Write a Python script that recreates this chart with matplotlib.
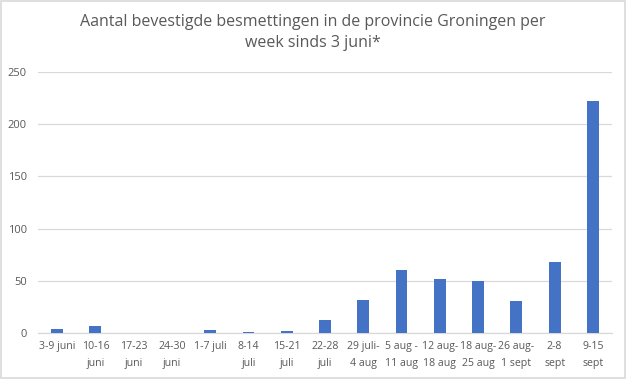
import matplotlib
matplotlib.use("Agg")
import matplotlib.pyplot as plt
from matplotlib.patches import Rectangle

plt.rcParams['font.family'] = ['Open Sans', 'DejaVu Sans']

weeks = ["3-9 juni", "10-16\njuni", "17-23\njuni", "24-30\njuni", "1-7 juli",
         "8-14\njuli", "15-21\njuli", "22-28\njuli", "29 juli-\n4 aug",
         "5 aug -\n11 aug", "12 aug-\n18 aug", "18 aug-\n25 aug",
         "26 aug-\n1 sept", "2-8\nsept", "9-15\nsept"]
cases = [4, 7, 0, 0, 3, 1, 2, 12, 32, 60, 52, 50, 31, 68, 222]
yticks = [0, 50, 100, 150, 200, 250]

text_color = "#595959"
grid_color = "#d9d9d9"
bar_color = "#4472c4"

fig = plt.figure(figsize=(6.26, 3.79), dpi=100)
fig.patches.append(Rectangle((0.0015, 0.002), 0.997, 0.995, transform=fig.transFigure,
                             fill=False, edgecolor="#d9d9d9", linewidth=1.2))
ax = fig.add_axes([38 / 626, 1 - 333 / 379, (612 - 38) / 626, (333 - 72) / 379])

x = range(len(weeks))
ax.bar(x, cases, width=0.31, color=bar_color, zorder=3)

ax.set_xlim(-0.5, len(weeks) - 0.5)
ax.set_ylim(0, 250)
ax.set_yticks(yticks)
ax.set_xticks(list(x))
ax.set_xticklabels(weeks, fontsize=7.6, color=text_color, linespacing=1.7)
ax.tick_params(axis='y', labelsize=8, labelcolor=text_color, length=0, pad=8)
ax.tick_params(axis='x', length=0, pad=6)

ax.grid(axis='y', color=grid_color, linewidth=0.9, zorder=0)
for side in ['top', 'right', 'left']:
    ax.spines[side].set_visible(False)
ax.spines['bottom'].set_color(grid_color)
ax.spines['bottom'].set_linewidth(0.9)

fig.text(313 / 626, 1 - 14 / 379, "Aantal bevestigde besmettingen in de provincie Groningen per\nweek sinds 3 juni*",
         ha='center', va='top', multialignment='center', fontsize=11.5,
         color=text_color, linespacing=1.45)

fig.savefig("out.png", dpi=100)
